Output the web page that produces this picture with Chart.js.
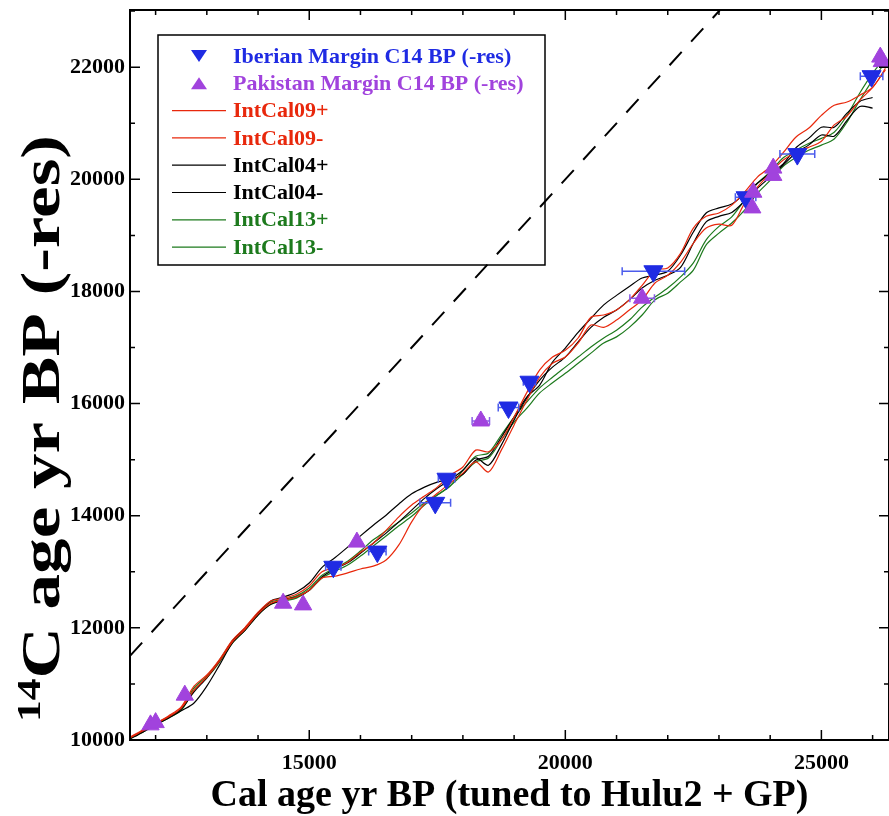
<!DOCTYPE html>
<html>
<head>
<meta charset="utf-8">
<script src="https://cdn.jsdelivr.net/npm/chart.js@4.4.1/dist/chart.umd.min.js"></script>
<style>
  html, body { margin: 0; padding: 0; background: #fff; }
  #wrap { width: 889px; height: 816px; }
</style>
</head>
<body>
<div id="wrap"><canvas id="c" width="889" height="816"></canvas></div>
<script>
// calendar age grid (yr BP) shared by the calibration curves
const calAge = [11500, 11750, 12000, 12250, 12500, 12750, 13000, 13250, 13500, 13750, 14000, 14250, 14500, 14750, 15000, 15250,
  15500, 15750, 16000, 16250, 16500, 16750, 17000, 17250, 17500, 17750, 18000, 18250, 18500, 18750, 19000, 19250,
  19500, 19750, 20000, 20250, 20500, 20750, 21000, 21250, 21500, 21750, 22000, 22250, 22500, 22750, 23000,
  23250, 23500, 23750, 24000, 24250, 24500, 24750, 25000, 25250, 25500, 25750, 26000, 26250];

const intcal09Plus = [10050, 10180, 10300, 10430, 10590, 10960, 11160, 11440, 11780, 12010, 12280, 12480, 12530, 12600, 12750, 13000,
  13070, 13170, 13350, 13510, 13740, 13980, 14190, 14350, 14510, 14720, 14870, 15170, 15140, 15350, 15760, 16200,
  16600, 16830, 16950, 17170, 17540, 17580, 17670, 17850, 18110, 18380, 18420, 18680, 19130, 19340, 19400,
  19540, 19770, 20040, 20220, 20470, 20750, 20910, 21140, 21320, 21380, 21500, 21640, 21980];
const intcal09Minus = [10040, 10160, 10290, 10410, 10570, 10890, 11120, 11410, 11750, 11980, 12250, 12440, 12500, 12550, 12670, 12890,
  12920, 12980, 13050, 13100, 13210, 13480, 13890, 14210, 14400, 14580, 14760, 14960, 14780, 15170, 15620, 16060,
  16470, 16720, 16830, 17080, 17400, 17360, 17490, 17670, 17850, 18150, 18290, 18520, 18860, 19130, 19200,
  19180, 19570, 19860, 20110, 20340, 20480, 20570, 20680, 20970, 21130, 21410, 21640, 21950];
const intcal04Plus = [10040, 10160, 10290, 10410, 10550, 10860, 11110, 11410, 11770, 12000, 12260, 12480, 12550, 12640, 12800, 13080,
  13250, 13440, 13640, 13830, 14010, 14210, 14390, 14510, 14600, 14650, 14740, 14990, 15060, 15400, 15760, 16120,
  16330, 16740, 16990, 17270, 17520, 17760, 17930, 18090, 18240, 18290, 18360, 18650, 19060, 19400, 19490,
  19560, 19740, 19930, 20110, 20270, 20560, 20730, 20930, 20930, 21180, 21390, 21460, null];
const intcal04Minus = [10020, 10140, 10270, 10390, 10520, 10660, 10960, 11340, 11730, 11960, 12230, 12420, 12500, 12550, 12670, 12910,
  13050, 13160, 13330, 13510, 13690, 13890, 14100, 14310, 14490, 14640, 14810, 15030, 14900, 15260, 15710, 16100,
  16420, 16650, 16830, 17100, 17360, 17540, 17670, 17850, 18060, 18200, 18290, 18430, 18860, 19240, 19340,
  19410, 19610, 19840, 20040, 20250, 20470, 20610, 20790, 20770, 21050, 21300, 21270, null];
const intcal13Plus = [10040, 10160, 10290, 10410, 10550, 10930, 11140, 11430, 11770, 12000, 12260, 12460, 12510, 12570, 12710, 12940,
  13070, 13190, 13370, 13570, 13730, 13890, 14050, 14230, 14370, 14530, 14810, 15060, 15120, 15440, 15760, 16030,
  16280, 16470, 16650, 16830, 17010, 17170, 17310, 17490, 17720, 17900, 18060, 18260, 18510, 18920, 19160,
  19330, 19630, 19930, 20130, 20380, 20520, 20640, 20730, 20840, 21140, 21540, 21890, 22180];
const intcal13Minus = [10020, 10140, 10270, 10390, 10530, 10890, 11110, 11390, 11730, 11960, 12230, 12420, 12480, 12530, 12670, 12890,
  13010, 13120, 13280, 13460, 13640, 13820, 13990, 14190, 14370, 14530, 14740, 14960, 15030, 15350, 15670, 15920,
  16190, 16370, 16540, 16720, 16900, 17080, 17190, 17360, 17580, 17850, 17970, 18170, 18380, 18830, 19040,
  19220, 19450, 19750, 19980, 20230, 20390, 20520, 20610, 20720, 21020, 21410, 21770, 22090];

// Iberian Margin samples
const iberianCal = [15470, 16330, 17460, 17680, 18890, 19300, 21720, 23520, 24530, 25980];
const iberianC14 = [13090, 13360, 14230, 14660, 15930, 16390, 18360, 19680, 20450, 21840];
const iberianXErr = [150, 170, 300, 160, 200, 120, 610, 200, 340, 220];
const iberianYErr = [60, 60, 60, 60, 60, 60, 60, 60, 60, 60];

// Pakistan Margin samples
const pakistanCal = [11900, 12000, 12570, 14490, 14880, 15930, 18350, 21500, 23650, 23670, 24060, 24060, 26150, 26180];
const pakistanC14 = [10270, 10310, 10800, 12440, 12410, 13530, 15690, 17880, 19490, 19770, 20070, 20200, 22180, 22100];
const pakistanXErr = [0, 0, 0, 0, 0, 0, 170, 240, 0, 0, 0, 0, 0, 0];
const pakistanYErr = [0, 0, 0, 0, 0, 0, 70, 0, 0, 0, 0, 0, 60, 0];

const oneToOne = [11500, 23500];

const xTicks = [15000, 20000, 25000];
const xAllTicks = [12000, 13000, 14000, 15000, 16000, 17000, 18000, 19000, 20000, 21000, 22000, 23000, 24000, 25000, 26000];
const yTicks = [10000, 12000, 14000, 16000, 18000, 20000, 22000];
const yAllTicks = [10000, 11000, 12000, 13000, 14000, 15000, 16000, 17000, 18000, 19000, 20000, 21000, 22000, 23000];

const legendLabels = ['Iberian Margin C14 BP (-res)', 'Pakistan Margin C14 BP (-res)', 'IntCal09+', 'IntCal09-',
  'IntCal04+', 'IntCal04-', 'IntCal13+', 'IntCal13-'];

const BLUE = '#1f2be3';
const PURPLE = '#a143dd';
const RED = '#e8280c';
const BLACK = '#000000';
const GREEN = '#1d7a1d';
const FONT = '"Liberation Serif", "Times New Roman", serif';

function toPoints(xs, ys) {
  return xs.map((x, i) => ({ x: x, y: ys[i] }));
}

function curve(label, values, color, order) {
  return {
    type: 'line',
    label: label,
    data: toPoints(calAge, values),
    borderColor: color,
    borderWidth: 1.2,
    pointRadius: 0,
    tension: 0.3,
    spanGaps: false,
    order: order
  };
}

function drawErrorBars(ctx, xs, ys, xs_, ys_, xerr, yerr, color) {
  ctx.strokeStyle = color;
  ctx.lineWidth = 1.5;
  xs_.forEach((v, i) => {
    const px = xs.getPixelForValue(v);
    const py = ys.getPixelForValue(ys_[i]);
    ctx.beginPath();
    if (xerr[i] > 0) {
      const a = xs.getPixelForValue(v - xerr[i]);
      const b = xs.getPixelForValue(v + xerr[i]);
      ctx.moveTo(a, py); ctx.lineTo(b, py);
      ctx.moveTo(a, py - 4); ctx.lineTo(a, py + 4);
      ctx.moveTo(b, py - 4); ctx.lineTo(b, py + 4);
    }
    if (yerr[i] > 0) {
      const a = ys.getPixelForValue(ys_[i] - yerr[i]);
      const b = ys.getPixelForValue(ys_[i] + yerr[i]);
      ctx.moveTo(px, a); ctx.lineTo(px, b);
      ctx.moveTo(px - 4, a); ctx.lineTo(px + 4, a);
      ctx.moveTo(px - 4, b); ctx.lineTo(px + 4, b);
    }
    ctx.stroke();
  });
}

function triangle(ctx, cx, cy, w, h, down, color) {
  ctx.fillStyle = color;
  ctx.beginPath();
  if (down) {
    ctx.moveTo(cx - w / 2, cy - h / 2); ctx.lineTo(cx + w / 2, cy - h / 2); ctx.lineTo(cx, cy + h / 2);
  } else {
    ctx.moveTo(cx - w / 2, cy + h / 2); ctx.lineTo(cx + w / 2, cy + h / 2); ctx.lineTo(cx, cy - h / 2);
  }
  ctx.closePath();
  ctx.fill();
}

// kill the automatic label padding so the plot frame sits where the reference has it
function noPad(s) {
  s.paddingLeft = 0; s.paddingRight = 0; s.paddingTop = 0; s.paddingBottom = 0;
}

const decor = {
  id: 'decor',
  beforeDatasetDraw(chart, args) {
    if (args.index !== 0) return;
    const { ctx, scales: { x, y } } = chart;
    ctx.save();
    drawErrorBars(ctx, x, y, iberianCal, iberianC14, iberianXErr, iberianYErr, '#4c5cec');
    drawErrorBars(ctx, x, y, pakistanCal, pakistanC14, pakistanXErr, pakistanYErr, '#8a5ee6');
    ctx.restore();
  },
  afterDraw(chart) {
    const { ctx, chartArea: { left, right, top, bottom }, scales: { x, y } } = chart;
    ctx.save();

    // frame
    ctx.strokeStyle = '#000';
    ctx.lineWidth = 2;
    ctx.strokeRect(left, top, right - left, bottom - top);

    // inward ticks on all four sides
    ctx.lineWidth = 1.5;
    ctx.beginPath();
    xAllTicks.forEach(v => {
      const px = x.getPixelForValue(v);
      const len = xTicks.includes(v) ? 10 : 5;
      ctx.moveTo(px, bottom); ctx.lineTo(px, bottom - len);
      ctx.moveTo(px, top); ctx.lineTo(px, top + len);
    });
    yAllTicks.forEach(v => {
      const py = y.getPixelForValue(v);
      const len = yTicks.includes(v) ? 10 : 5;
      ctx.moveTo(left, py); ctx.lineTo(left + len, py);
      ctx.moveTo(right, py); ctx.lineTo(right - len, py);
    });
    ctx.stroke();

    // axis titles
    ctx.fillStyle = '#000';
    ctx.font = 'bold 38px ' + FONT;
    ctx.textAlign = 'center';
    ctx.textBaseline = 'alphabetic';
    ctx.fillText('Cal age yr BP (tuned to Hulu2 + GP)', (left + right) / 2, 806);

    const yMain = 'C age yr BP (-res)';
    ctx.save();
    ctx.translate(59, 722);
    ctx.rotate(-Math.PI / 2);
    ctx.font = 'bold 33px ' + FONT;
    const wSup = ctx.measureText('14').width;
    ctx.font = 'bold 54px ' + FONT;
    const wMain = ctx.measureText(yMain).width;
    ctx.scale(587 / (wSup + wMain), 1);
    ctx.textAlign = 'left';
    ctx.font = 'bold 33px ' + FONT;
    ctx.fillText('14', 0, -19);
    ctx.font = 'bold 54px ' + FONT;
    ctx.fillText(yMain, wSup, 0);
    ctx.restore();

    // legend
    const colors = [BLUE, PURPLE, RED, RED, BLACK, BLACK, GREEN, GREEN];
    ctx.lineWidth = 1.5;
    ctx.strokeStyle = '#000';
    ctx.strokeRect(158, 35, 387, 230);
    ctx.font = 'bold 22px ' + FONT;
    ctx.textAlign = 'left';
    ctx.textBaseline = 'middle';
    legendLabels.forEach((lab, i) => {
      const cy = 56 + i * 27.3;
      if (i === 0) triangle(ctx, 199, cy, 16, 12, true, BLUE);
      else if (i === 1) triangle(ctx, 199, cy, 16, 12, false, PURPLE);
      else {
        ctx.strokeStyle = colors[i];
        ctx.lineWidth = 1.2;
        ctx.beginPath();
        ctx.moveTo(172, cy); ctx.lineTo(226, cy);
        ctx.stroke();
      }
      ctx.fillStyle = colors[i];
      ctx.fillText(lab, 233, cy + 1);
    });

    ctx.restore();
  }
};

const tickFont = { family: FONT, size: 22, weight: 'bold' };

new Chart(document.getElementById('c'), {
  type: 'scatter',
  data: {
    datasets: [
      {
        label: legendLabels[0],
        data: toPoints(iberianCal, iberianC14),
        pointStyle: 'triangle',
        rotation: 180,
        radius: 11,
        backgroundColor: BLUE,
        borderColor: BLUE,
        borderWidth: 1,
        order: 1
      },
      {
        label: legendLabels[1],
        data: toPoints(pakistanCal, pakistanC14),
        pointStyle: 'triangle',
        radius: 10,
        backgroundColor: PURPLE,
        borderColor: PURPLE,
        borderWidth: 1,
        order: 0
      },
      curve('IntCal09+', intcal09Plus, RED, 2),
      curve('IntCal09-', intcal09Minus, RED, 3),
      curve('IntCal04+', intcal04Plus, BLACK, 4),
      curve('IntCal04-', intcal04Minus, BLACK, 5),
      curve('IntCal13+', intcal13Plus, GREEN, 6),
      curve('IntCal13-', intcal13Minus, GREEN, 7),
      {
        type: 'line',
        label: '1:1',
        data: toPoints(oneToOne, oneToOne),
        borderColor: '#000',
        borderWidth: 2,
        borderDash: [18, 14],
        pointRadius: 0,
        order: 8
      }
    ]
  },
  options: {
    responsive: false,
    animation: false,
    layout: { autoPadding: false, padding: { top: 10, right: 0, left: 0, bottom: 0 } },
    plugins: { legend: { display: false }, tooltip: { enabled: false } },
    scales: {
      x: {
        type: 'linear',
        min: 11500,
        max: 26320,
        grid: { display: false, drawTicks: false, tickLength: 0 },
        border: { display: false },
        ticks: { font: tickFont, color: '#000', padding: 10, maxRotation: 0, callback: v => String(v) },
        afterBuildTicks: s => { s.ticks = xTicks.map(v => ({ value: v })); },
        afterFit: s => { s.height = 76; noPad(s); }
      },
      y: {
        type: 'linear',
        min: 10000,
        max: 23020,
        grid: { display: false, drawTicks: false, tickLength: 0 },
        border: { display: false },
        ticks: { font: tickFont, color: '#000', padding: 5, callback: v => String(v) },
        afterBuildTicks: s => { s.ticks = yTicks.map(v => ({ value: v })); },
        afterFit: s => { s.width = 130; noPad(s); }
      }
    }
  },
  plugins: [decor]
});
</script>
</body>
</html>
